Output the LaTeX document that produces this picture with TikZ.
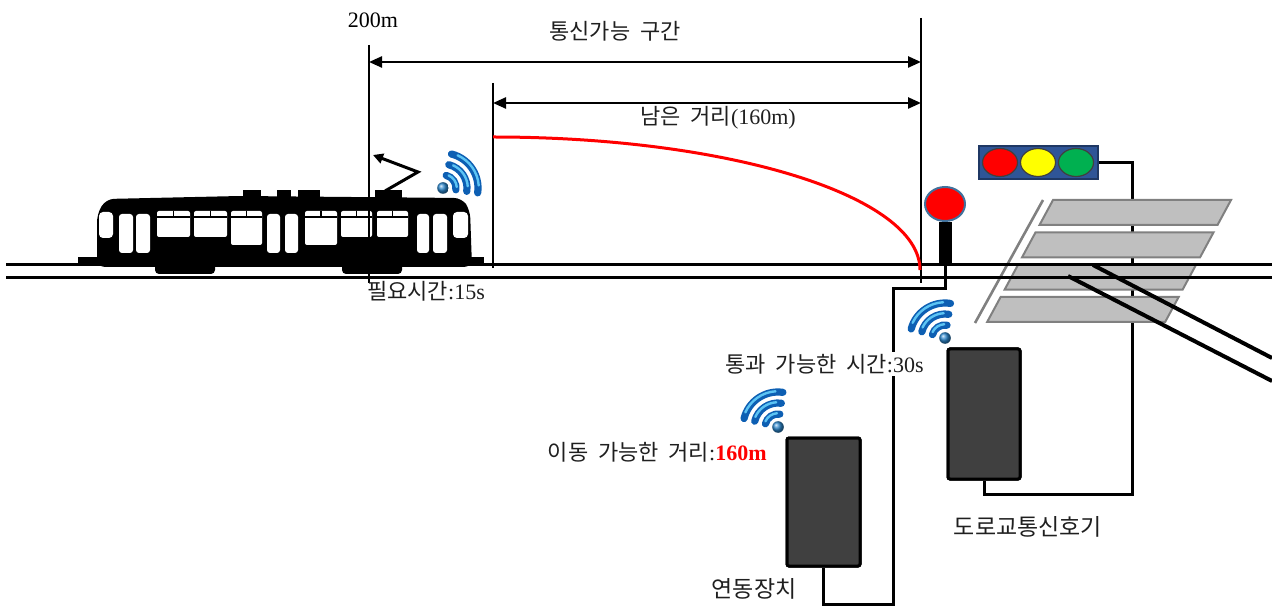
\documentclass[tikz,border=0pt]{standalone}
\usepackage{fontspec}
\setmainfont{Liberation Serif}
\newfontfamily\kr[WordSpace=2]{Noto Sans CJK KR}
\usetikzlibrary{arrows.meta,positioning,shapes.geometric}
\definecolor{SigRed}{HTML}{FF0000}
\definecolor{LampYellow}{HTML}{FFFF00}
\definecolor{LampGreen}{HTML}{00B050}
\definecolor{Navy}{HTML}{2F5597}
\definecolor{NavyEdge}{HTML}{1F3864}
\definecolor{HeadEdge}{HTML}{41719C}
\definecolor{BoxGray}{HTML}{404040}
\definecolor{Stripe}{HTML}{BFBFBF}
\definecolor{StripeEdge}{HTML}{808080}
\definecolor{WifiDark}{HTML}{0D5FB3}
\definecolor{WifiLight}{HTML}{5CC4F4}

% wireless mark: dot at (#1,#2), arcs starting at angle #3
\newcommand{\wifimark}[3]{%
  \foreach \r in {13,24,35} {
    \draw[line width=3.6pt,line cap=round,WifiDark]
      ([shift={(#3:\r)}]#1,#2) arc[start angle=#3,delta angle=84,radius=\r];
    \draw[line width=1.2pt,line cap=round,WifiLight]
      ([shift={(#3+10:\r+0.8)}]#1,#2) arc[start angle=#3+10,delta angle=62,radius=\r+0.8];
  }
  \shade[ball color=WifiDark!60!WifiLight] (#1,#2) circle[radius=5.8];
}

\begin{document}
\begin{tikzpicture}[x=0.5pt,y=-0.5pt,font=\fontsize{11}{13}\selectfont,
  rail/.style={line width=1.5pt},
  dimline/.style={line width=0.6pt},
  dimarrow/.style={line width=1.2pt,{Triangle[length=6.5pt,width=5.5pt]}-{Triangle[length=6.5pt,width=5.5pt]}},
  wire/.style={line width=1.5pt},
  devbox/.style={draw=black,fill=BoxGray,line width=1.5pt,rounded corners=1pt,inner sep=0pt},
  stripe/.style={fill=Stripe,draw=StripeEdge,line width=1pt},
  krlabel/.style={inner sep=1pt,text=black!88}]
  \useasboundingbox (0,0) rectangle (1272,608);

  % traffic light and its controller wire (under the crossing)
  \node[draw=NavyEdge,fill=Navy,line width=1pt,minimum width=59.5pt,minimum height=16.5pt,inner sep=0pt] (tl) at (1038.5,162.5) {};
  \foreach \x/\c in {1000/SigRed,1038/LampYellow,1076/LampGreen}
    \filldraw[fill=\c,draw=black!75,line width=0.6pt] (\x,162.5) ellipse[x radius=17.5,y radius=14];
  \node[devbox,minimum width=36pt,minimum height=65pt] (rsc) at (984,414) {};
  \draw[wire] (tl.east) -- (1132,162.5) -- (1132,494) -| (rsc.south);
  \node[devbox,minimum width=36pt,minimum height=65pt] at (984,414) {};

  % crosswalk
  \foreach \k in {0,...,3} {
    \pgfmathsetmacro{\yt}{200+32.3*\k}
    \pgfmathsetmacro{\yb}{\yt+25}
    \filldraw[stripe] ({1053-0.54*(\yt-200)},\yt) -- ({1231-0.54*(\yt-200)},\yt)
      -- ({1231-0.54*(\yb-200)},\yb) -- ({1053-0.54*(\yb-200)},\yb) -- cycle;
  }
  \draw[StripeEdge,line width=1.3pt] (1043,200) -- (975,323);

  % track and road
  \draw[rail] (6,265) -- (1272,265);
  \draw[rail] (6,278) -- (1272,278);
  \draw[line width=2pt] (1093,265) -- (1272,358);
  \draw[line width=2pt] (1068,276) -- (1272,381);

  % tram
  \fill[rounded corners=4pt] (97,267) -- (97,214) -- (106,199) -- (240,196) -- (462,198) -- (470,210) -- (472,267) -- cycle;
  \fill (78,257) rectangle (98,264);
  \fill (470,257) rectangle (484,264);
  \fill[rounded corners=2pt] (155,260) rectangle (215,274);
  \fill[rounded corners=2pt] (342,260) rectangle (402,274);
  \foreach \xa/\xb in {243/261,277/291,298/320,375/402}
    \fill (\xa,190) rectangle (\xb,199);
  \foreach \xa/\xb/\yb in {157/190/237,194/227/237,231/262/245,305/337/245,341/372/237,377/408/237} {
    \fill[white,rounded corners=1pt] (\xa,211) rectangle (\xb,\yb);
    \draw[line width=0.8pt] (\xa,217) -- (\xb,217);
    \draw[line width=0.8pt] ({(\xa+\xb)/2},211) -- ({(\xa+\xb)/2},217);
  }
  \foreach \xa/\xb in {119/133,136/150,267/280,285/298,417/429,433/447}
    \fill[white,rounded corners=1.5pt] (\xa,214) rectangle (\xb,253);
  \fill[white,rounded corners=2pt] (99,212) rectangle (113,238);
  \fill[white,rounded corners=2pt] (453,212) rectangle (468,238);
  \draw[line width=1.5pt,-{Triangle[length=5pt,width=5pt]}] (385,191) -- (418,172) -- (373,155);
  \wifimark{443}{188}{-76}

  % range marks
  \coordinate (r200) at (369,45);
  \coordinate (r200b) at (369,283);
  \coordinate (r160) at (493,83);
  \coordinate (r160b) at (493,268);
  \coordinate (rend) at (921,18);
  \coordinate (rendb) at (921,283);
  \draw[dimline] (r200) -- (r200b);
  \draw[dimline] (r160) -- (r160b);
  \draw[dimline] (rend) -- (rendb);
  \coordinate (a1l) at (369,62);
  \coordinate (a1r) at (921,62);
  \coordinate (a2l) at (493,103);
  \coordinate (a2r) at (921,103);
  \draw[dimarrow] (a1l) -- (a1r);
  \draw[dimarrow] (a2l) -- (a2r);
  \draw[SigRed,line width=1.5pt] (493,137) .. controls (729,137) and (920,196) .. (920,270);

  \node (l200) at (373,20) {200m};
  \node[krlabel] (lcomm) at (615,31) {\kr 통신가능 구간};
  \node[krlabel] (lleft) at (718,118) {{\kr 남은 거리}(160m)};
  \node[krlabel] (lneed) at (426,291) {{\kr 필요시간}:15s};

  % railway signal and interlocking
  \node[ellipse,draw=HeadEdge,fill=SigRed,line width=1pt,minimum width=20pt,minimum height=17pt,inner sep=0pt] (sig) at (945,204) {};
  \coordinate (sigfoot) at (945,265);
  \draw[line width=6.5pt] (sig.south) -- (sigfoot);
  \node[devbox,minimum width=36.5pt,minimum height=64pt] (ilk) at (823.5,502) {};
  \draw[wire] (sigfoot) -- (945,289) -- (893,289) -- (893,604) -| (ilk.south);
  \node[devbox,minimum width=36.5pt,minimum height=64pt] at (823.5,502) {};

  \wifimark{778}{427}{-166}
  \wifimark{945}{338}{-165}

  \node[krlabel,fill=white,anchor=east] (lpass) at (926,364) {{\kr 통과 가능한 시간}:30s};
  \node[krlabel,anchor=east] (lmove) at (769,452) {{\kr 이동 가능한 거리}:\textcolor{SigRed}{\textbf{160m}}};
  \node[krlabel,font=\fontsize{11.5}{13}\selectfont] (lilk) at (754,589) {\kr 연동장치};
  \node[krlabel,font=\fontsize{11.5}{13}\selectfont] (lrsc) at (1028,527) {\kr 도로교통신호기};
\end{tikzpicture}
\end{document}
